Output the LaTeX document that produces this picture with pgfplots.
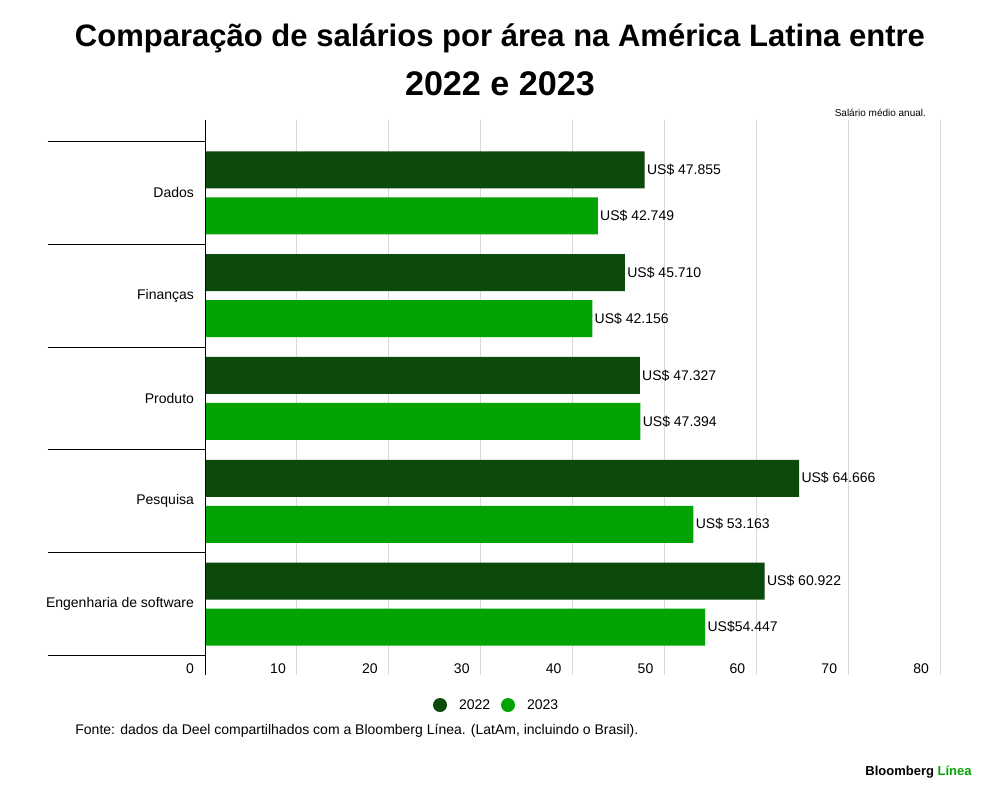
\documentclass[border=0pt]{standalone}
\usepackage{pgfplots}
\pgfplotsset{compat=1.18}
\usepackage{fontspec}
\setmainfont{Liberation Sans}
\definecolor{dk}{HTML}{0B4A0B}
\definecolor{lt}{HTML}{04A304}
\begin{document}
\begin{tikzpicture}
\begin{scope}[x=0.5pt,y=0.5pt]
\useasboundingbox (0,0) rectangle (1000,799);
\node at (500,761) {\resizebox{425pt}{!}{\bfseries Comparação de salários por área na América Latina entre}};
\node at (500,715) {\resizebox{95pt}{!}{\bfseries 2022 e 2023}};
\node[anchor=east,font=\fontsize{5}{6}\selectfont] at (933,686) {Salário médio anual.};
\fill[dk] (440,94) circle (7);
\node[anchor=west,font=\fontsize{7}{8}\selectfont] at (452,94) {2022};
\fill[lt] (508,94) circle (7);
\node[anchor=west,font=\fontsize{7}{8}\selectfont] at (520,94) {2023};
\node[anchor=west,font=\fontsize{7}{8}\selectfont,inner sep=0] at (75,68) {Fonte: dados da Deel compartilhados com a Bloomberg Línea. (LatAm, incluindo o Brasil).};
\node[anchor=east,font=\fontsize{6.5}{7}\selectfont\bfseries,inner sep=0] at (972,27) {Bloomberg \textcolor{lt}{Línea}};
\end{scope}
\begin{axis}[at={(102.5pt,62pt)},anchor=south west,width=367.5pt,height=277.5pt,scale only axis,
 xbar, bar width=18.5pt, xmin=0,xmax=80, ymin=-0.709, ymax=4.69, y dir=reverse,
 axis line style={draw=none}, xmajorgrids, grid style={gray!30},
 xtick={0,10,...,80}, major tick length=0pt,
 /pgf/number format/assume math mode=true,
 xticklabel style={anchor=base east,yshift=1pt,xshift=-2pt,font=\fontsize{7}{8}\selectfont},
 ytick={0,...,4}, yticklabels={Dados,Finanças,Produto,Pesquisa,Engenharia de software},
 yticklabel style={font=\fontsize{7}{8}\selectfont, xshift=-2pt},
 clip=false, point meta=explicit symbolic,
 nodes near coords, nodes near coords style={anchor=west,inner sep=1pt,font=\fontsize{7}{8}\selectfont},
]
\addplot[fill=dk,draw=none,bar shift=11.5pt] coordinates {(47.855,0)[US\$ 47.855] (45.710,1)[US\$ 45.710] (47.327,2)[US\$ 47.327] (64.666,3)[US\$ 64.666] (60.922,4)[US\$ 60.922]};
\addplot[fill=lt,draw=none,bar shift=-11.5pt] coordinates {(42.749,0)[US\$ 42.749] (42.156,1)[US\$ 42.156] (47.394,2)[US\$ 47.394] (53.163,3)[US\$ 53.163] (54.447,4)[US\$54.447]};
\draw[black] (axis cs:0,-0.709) -- (axis cs:0,4.69);
\pgfplotsinvokeforeach{-0.5,0.5,1.5,2.5,3.5,4.5}{\draw[black] ([xshift=-78.5pt]axis cs:0,#1) -- (axis cs:0,#1);}
\end{axis}
\end{tikzpicture}
\end{document}
